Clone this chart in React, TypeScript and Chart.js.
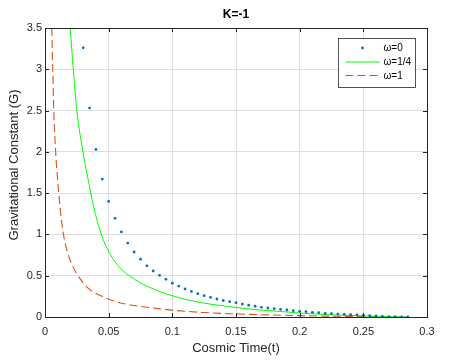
import React, { useEffect, useRef } from 'react';
import { Chart, registerables } from 'chart.js';

Chart.register(...registerables);

const chartTitle = 'K=-1';
const xAxisTitle = 'Cosmic Time(t)';
const yAxisTitle = 'Gravitational Constant (G)';
const seriesLabels = ['\u03c9=0', '\u03c9=1/4', '\u03c9=1'];

const xTickValues = [0, 0.05, 0.1, 0.15, 0.2, 0.25, 0.3];
const xTickLabels = ['0', '0.05', '0.1', '0.15', '0.2', '0.25', '0.3'];
const yTickValues = [0, 0.5, 1, 1.5, 2, 2.5, 3, 3.5];
const yTickLabels = ['0', '0.5', '1', '1.5', '2', '2.5', '3', '3.5'];

// omega = 0 (dots)
const tOmega0 = [
  0.03, 0.035, 0.04, 0.045, 0.05, 0.055, 0.06, 0.065, 0.07, 0.075,
  0.08, 0.085, 0.09, 0.095, 0.1, 0.105, 0.11, 0.115, 0.12, 0.125,
  0.13, 0.135, 0.14, 0.145, 0.15, 0.155, 0.16, 0.165, 0.17, 0.175,
  0.18, 0.185, 0.19, 0.195, 0.2, 0.205, 0.21, 0.215, 0.22, 0.225,
  0.23, 0.235, 0.24, 0.245, 0.25, 0.255, 0.26, 0.265, 0.27, 0.275,
  0.28, 0.285,
];
const gOmega0 = [
  3.26, 2.53, 2.03, 1.67, 1.4, 1.195, 1.03, 0.895, 0.787, 0.7,
  0.62, 0.557, 0.505, 0.456, 0.41, 0.375, 0.339, 0.31, 0.282, 0.258,
  0.238, 0.218, 0.2, 0.185, 0.173, 0.157, 0.143, 0.13, 0.117, 0.109,
  0.1, 0.093, 0.085, 0.076, 0.069, 0.064, 0.057, 0.052, 0.045, 0.04,
  0.036, 0.033, 0.028, 0.024, 0.02, 0.016, 0.012, 0.008, 0.005, 0.003,
  0.001, 0,
];

// omega = 1/4 (solid green)
const tOmegaQuarter = [
  0.0198, 0.0222, 0.025, 0.0298, 0.0337, 0.0382, 0.0442, 0.0508, 0.0586, 0.0665,
  0.0744, 0.0809, 0.1006, 0.119, 0.145, 0.165, 0.182, 0.203, 0.229, 0.25,
  0.265, 0.285,
];
const gOmegaQuarter = [
  3.5, 3.0, 2.5, 2.0, 1.68, 1.335, 1.0, 0.77, 0.6, 0.495,
  0.418, 0.367, 0.254, 0.185, 0.125, 0.09, 0.07, 0.045, 0.024, 0.013,
  0.007, 0,
];

// omega = 1 (dashed orange)
const tOmegaOne = [
  0.0053, 0.0061, 0.0069, 0.0083, 0.0101, 0.012, 0.0146, 0.018, 0.0219, 0.0272,
  0.035, 0.0455, 0.0586, 0.0718, 0.083, 0.1, 0.124, 0.145, 0.17, 0.2,
  0.22, 0.25, 0.285,
];
const gOmegaOne = [
  3.5, 3.0, 2.5, 2.02, 1.62, 1.3, 0.99, 0.77, 0.61, 0.47,
  0.335, 0.246, 0.173, 0.135, 0.113, 0.083, 0.055, 0.04, 0.028, 0.017,
  0.011, 0.005, 0,
];

const FONT = "'Liberation Sans', Arial, Helvetica, sans-serif";
const AXIS_COLOR = '#262626';
const GRID_COLOR = '#dfdfdf';
const BLUE = '#0072BD';
const GREEN = '#00FF00';
const ORANGE = '#D95319';

const toPoints = (xs: number[], ys: number[]) => xs.map((x, i) => ({ x, y: ys[i] }));

const framePlugin = {
  id: 'matlabFrame',
  afterDraw(chart: any) {
    const { ctx, chartArea } = chart;
    const { left, right, top, bottom } = chartArea;
    const xs = chart.scales.x;
    const ys = chart.scales.y;
    ctx.save();
    // box
    ctx.strokeStyle = AXIS_COLOR;
    ctx.lineWidth = 1;
    ctx.beginPath();
    ctx.rect(Math.round(left) + 0.5, Math.round(top) + 0.5, Math.round(right - left), Math.round(bottom - top));
    ctx.stroke();
    // inward ticks
    const tl = 4;
    ctx.beginPath();
    xTickValues.forEach((v) => {
      const px = Math.round(xs.getPixelForValue(v)) + 0.5;
      ctx.moveTo(px, bottom);
      ctx.lineTo(px, bottom - tl);
      ctx.moveTo(px, top);
      ctx.lineTo(px, top + tl);
    });
    yTickValues.forEach((v) => {
      const py = Math.round(ys.getPixelForValue(v)) + 0.5;
      ctx.moveTo(left, py);
      ctx.lineTo(left + tl, py);
      ctx.moveTo(right, py);
      ctx.lineTo(right - tl, py);
    });
    ctx.stroke();

    // title
    ctx.fillStyle = '#000';
    ctx.font = `bold 12px ${FONT}`;
    ctx.textAlign = 'center';
    ctx.textBaseline = 'middle';
    ctx.fillText(chartTitle, (left + right) / 2, 15);

    // y axis title
    ctx.save();
    ctx.translate(14, 165);
    ctx.rotate(-Math.PI / 2);
    ctx.fillStyle = AXIS_COLOR;
    ctx.font = `13px ${FONT}`;
    ctx.textAlign = 'center';
    ctx.textBaseline = 'middle';
    ctx.fillText(yAxisTitle, 0, 0);
    ctx.restore();

    // legend
    const lx = right - 88.5;
    const ly = top + 10.5;
    const lw = 77;
    const lh = 49;
    ctx.fillStyle = '#fff';
    ctx.fillRect(lx, ly, lw, lh);
    ctx.strokeStyle = AXIS_COLOR;
    ctx.lineWidth = 0.8;
    ctx.strokeRect(lx, ly, lw, lh);
    const rows = [ly + 9.5, ly + 23.5, ly + 37];
    const sx0 = lx + 7;
    const sx1 = lx + 41;
    const tx = lx + 45;
    chart.data.datasets.forEach((ds: any, i: number) => {
      const ry = rows[i];
      ctx.save();
      if (i === 0) {
        ctx.fillStyle = ds.pointBackgroundColor;
        ctx.beginPath();
        ctx.arc((sx0 + sx1) / 2, ry, 1.4, 0, Math.PI * 2);
        ctx.fill();
      } else {
        ctx.strokeStyle = ds.borderColor;
        ctx.lineWidth = ds.borderWidth;
        ctx.setLineDash(ds.borderDash || []);
        ctx.beginPath();
        ctx.moveTo(sx0, ry);
        ctx.lineTo(sx1, ry);
        ctx.stroke();
      }
      ctx.restore();
      ctx.fillStyle = '#000';
      ctx.font = `10px ${FONT}`;
      ctx.textAlign = 'left';
      ctx.textBaseline = 'middle';
      ctx.fillText(ds.label, tx, ry + 0.5);
    });
    ctx.restore();
  },
};

export default function App() {
  const canvasRef = useRef<HTMLCanvasElement | null>(null);

  useEffect(() => {
    document.body.style.margin = '0';
    const canvas = canvasRef.current;
    if (!canvas) return;
    const chart = new Chart(canvas, {
      type: 'scatter',
      data: {
        datasets: [
          {
            label: seriesLabels[0],
            data: toPoints(tOmega0, gOmega0),
            showLine: false,
            pointRadius: 1.4,
            pointBorderWidth: 0,
            pointBackgroundColor: BLUE,
            borderColor: BLUE,
          },
          {
            label: seriesLabels[1],
            data: toPoints(tOmegaQuarter, gOmegaQuarter),
            showLine: true,
            pointRadius: 0,
            borderColor: GREEN,
            borderWidth: 1,
            cubicInterpolationMode: 'monotone',
          },
          {
            label: seriesLabels[2],
            data: toPoints(tOmegaOne, gOmegaOne),
            showLine: true,
            pointRadius: 0,
            borderColor: ORANGE,
            borderWidth: 1.1,
            borderDash: [8, 4],
            cubicInterpolationMode: 'monotone',
          },
        ],
      },
      options: {
        responsive: false,
        animation: false,
        events: [],
        layout: { padding: { top: 28, right: 28, left: 0, bottom: 0 } },
        plugins: {
          legend: { display: false },
          title: { display: false },
          tooltip: { enabled: false },
        },
        scales: {
          x: {
            type: 'linear',
            min: 0,
            max: 0.3,
            afterFit: (scale: any) => {
              scale.height = 46;
            },
            afterBuildTicks: (scale: any) => {
              scale.ticks = xTickValues.map((v) => ({ value: v }));
            },
            ticks: {
              padding: 8,
              color: AXIS_COLOR,
              font: { family: FONT, size: 11 },
              maxRotation: 0,
              autoSkip: false,
              callback: (v: any) => {
                const i = xTickValues.findIndex((t) => Math.abs(t - v) < 1e-9);
                return i >= 0 ? xTickLabels[i] : '';
              },
            },
            grid: { color: GRID_COLOR, drawTicks: false, lineWidth: 1 },
            border: { display: true, color: AXIS_COLOR },
            title: {
              display: true,
              text: xAxisTitle,
              color: AXIS_COLOR,
              font: { family: FONT, size: 13 },
              padding: { top: 0, bottom: 7 },
            },
          },
          y: {
            type: 'linear',
            min: 0,
            max: 3.5,
            afterFit: (scale: any) => {
              scale.width = 45;
            },
            afterBuildTicks: (scale: any) => {
              scale.ticks = yTickValues.map((v) => ({ value: v }));
            },
            ticks: {
              padding: 3,
              color: AXIS_COLOR,
              font: { family: FONT, size: 11 },
              autoSkip: false,
              callback: (v: any) => {
                const i = yTickValues.findIndex((t) => Math.abs(t - v) < 1e-9);
                return i >= 0 ? yTickLabels[i] : '';
              },
            },
            grid: { color: GRID_COLOR, drawTicks: false, lineWidth: 1 },
            border: { display: true, color: AXIS_COLOR },
            title: { display: false, text: yAxisTitle },
          },
        },
      },
      plugins: [framePlugin],
    });
    return () => chart.destroy();
  }, []);

  return (
    <div style={{ position: 'absolute', left: 0, top: 0, width: 455, height: 363, background: '#fff' }}>
      <canvas ref={canvasRef} width={455} height={363} style={{ width: 455, height: 363 }} />
    </div>
  );
}
